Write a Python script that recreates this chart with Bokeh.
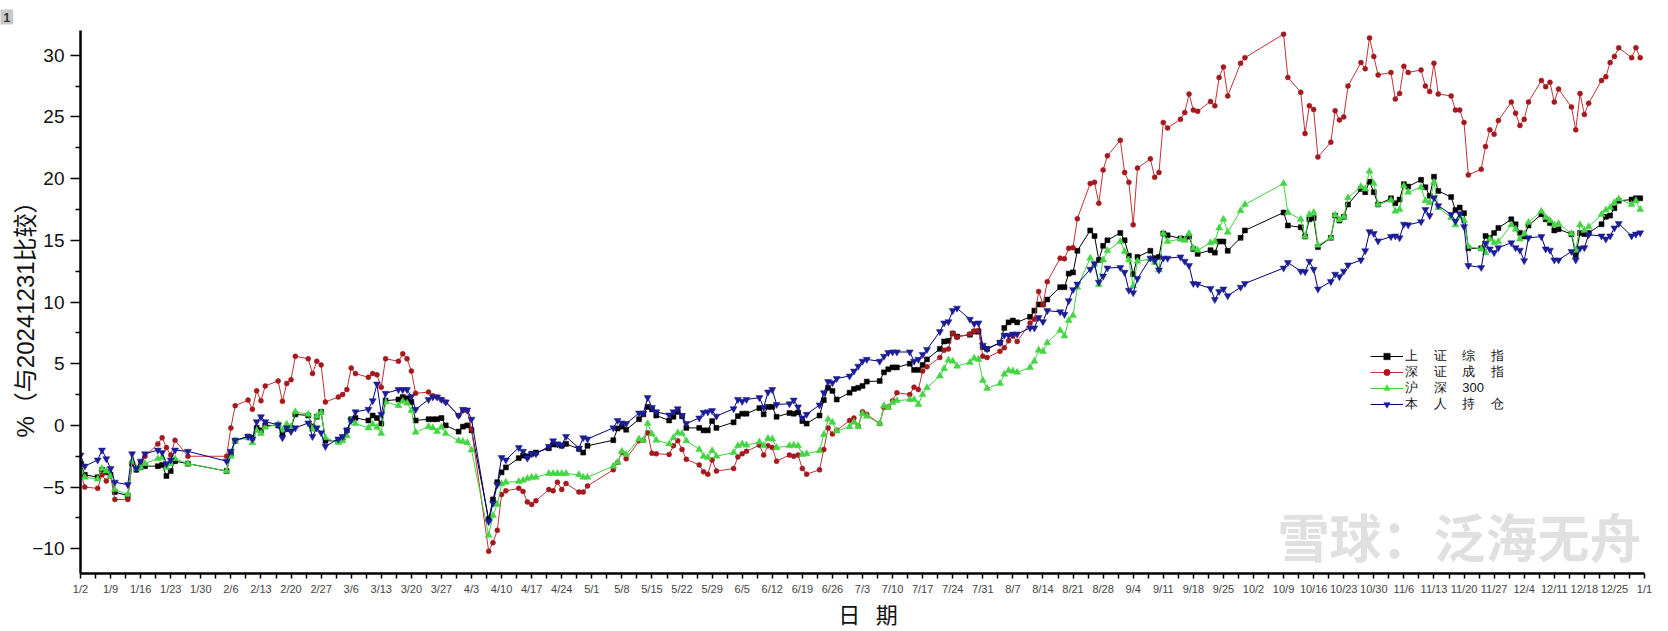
import pandas as pd
from bokeh.plotting import figure
from bokeh.models import FixedTicker, Label, Legend, LegendItem, ColumnDataSource, Range1d, Title
from bokeh.embed import file_html
from bokeh.resources import INLINE

# ---------------- data ----------------
# trading days of 2025 (month -> days)
trading_days = {
    1: [2, 3, 6, 7, 8, 9, 10, 13, 14, 15, 16, 17, 20, 21, 22, 23, 24, 27],
    2: [5, 6, 7, 10, 11, 12, 13, 14, 17, 18, 19, 20, 21, 24, 25, 26, 27, 28],
    3: [3, 4, 5, 6, 7, 10, 11, 12, 13, 14, 17, 18, 19, 20, 21, 24, 25, 26, 27, 28, 31],
    4: [1, 2, 3, 7, 8, 9, 10, 11, 14, 15, 16, 17, 18, 21, 22, 23, 24, 25, 28, 29, 30],
    5: [6, 7, 8, 9, 12, 13, 14, 15, 16, 19, 20, 21, 22, 23, 26, 27, 28, 29, 30],
    6: [3, 4, 5, 6, 9, 10, 11, 12, 13, 16, 17, 18, 19, 20, 23, 24, 25, 26, 27, 30],
    7: [1, 2, 3, 4, 7, 8, 9, 10, 11, 14, 15, 16, 17, 18, 21, 22, 23, 24, 25, 28, 29, 30, 31],
    8: [1, 4, 5, 6, 7, 8, 11, 12, 13, 14, 15, 18, 19, 20, 21, 22, 25, 26, 27, 28, 29],
    9: [1, 2, 3, 4, 5, 8, 9, 10, 11, 12, 15, 16, 17, 18, 19, 22, 23, 24, 25, 26, 29, 30],
    10: [9, 10, 13, 14, 15, 16, 17, 20, 21, 22, 23, 24, 27, 28, 29, 30, 31],
    11: [3, 4, 5, 6, 7, 10, 11, 12, 13, 14, 17, 18, 19, 20, 21, 24, 25, 26, 27, 28],
    12: [1, 2, 3, 4, 5, 8, 9, 10, 11, 12, 15, 16, 17, 18, 19, 22, 23, 24, 25, 26, 29, 30, 31],
}

# 上证综指 (% vs 2024-12-31)
shanghai = [
    -3.1, -4.0, -4.2, -3.6, -3.8, -4.0, -5.4, -5.7, -3.1, -3.6, -3.4, -3.3, -3.3, -3.2, -4.1, -3.7, -2.9, -3.1,
    -3.7, -2.3, -1.25, -0.9, -1.0, -0.2, -0.4, 0.0, 0.0, -0.7, -0.3, -0.2, 0.9, 0.8, -0.1, 0.7, 1.1, -1.25,
    -1.25, -1.0, -0.4, 0.5, 0.6, 0.4, 0.8, 0.6, 0.15, 2.0, 2.1, 2.3, 2.2, 1.9, 0.4, 0.5, 0.5, 0.5, 0.6, 0.0, -0.5,
    -0.1, 0.0, -0.4, -7.6, -6.0, -4.6, -3.8, -3.4, -2.65, -2.45, -2.5, -2.3, -2.2, -1.85, -1.55, -1.55, -1.65, -1.5, -1.9, -2.2, -1.65,
    -1.2, -0.25, -0.1, -0.35, 0.5, 0.9, 1.5, 1.3, 0.8, 0.4, 0.7, 1.1, 0.75, -0.2, -0.2, -0.4, -0.4, 0.35, -0.2,
    0.25, 0.75, 0.95, 0.95, 1.4, 0.9, 1.5, 1.5, 0.7, 1.0, 0.95, 1.05, 0.35, 0.15, 0.8, 2.05, 3.05, 2.8, 2.1, 2.65,
    2.95, 3.05, 3.2, 3.55, 3.6, 4.3, 4.55, 4.7, 4.7, 5.0, 4.5, 4.5, 4.9, 5.35, 6.2, 6.8, 6.85, 7.45, 7.2, 7.35, 7.6, 7.6, 6.35,
    6.2, 6.7, 7.9, 8.35, 8.5, 8.35, 8.8, 9.3, 9.8, 9.8, 10.2, 11.2, 11.2, 12.3, 12.4, 14.15, 15.8, 15.35, 13.4, 14.55, 15.0,
    15.6, 15.0, 13.75, 12.25, 13.65, 14.15, 13.55, 13.65, 15.55, 15.4, 15.15, 15.1, 15.3, 14.3, 13.9, 14.2, 14.0, 14.9, 14.9, 14.15, 15.2, 15.8,
    17.25, 16.2, 16.05, 15.3, 16.7, 16.8, 14.45, 15.2, 17.0, 16.6, 16.9, 17.9, 19.15, 18.9, 19.75, 18.9, 17.9,
    18.4, 18.0, 18.3, 19.55, 19.35, 19.9, 19.3, 18.6, 20.15, 19.0, 18.5, 17.45, 17.65, 17.2, 14.35, 14.35, 15.35, 15.2, 15.6, 16.0,
    16.7, 16.3, 15.6, 15.3, 16.2, 17.1, 16.7, 16.4, 15.8, 15.9, 15.5, 13.8, 15.6, 15.5, 15.6, 16.3, 16.9, 17.0, 17.6, 18.2, 18.3, 18.4, 18.4,
]

# 深证成指
shenzhen = [
    -3.8, -5.0, -5.1, -4.0, -4.5, -4.1, -6.0, -6.0, -3.0, -3.5, -3.0, -2.5, -1.5, -1.0, -1.8, -2.4, -1.2, -2.5,
    -2.5, -0.2, 1.6, 2.05, 1.3, 2.8, 2.0, 3.2, 3.6, 1.95, 3.4, 3.7, 5.6, 5.4, 4.2, 5.2, 4.9, 1.9,
    2.3, 2.5, 2.9, 4.65, 4.2, 3.9, 4.2, 4.1, 3.1, 5.4, 5.2, 5.8, 5.4, 4.4, 2.6, 2.7, 2.4, 2.3, 2.1, 1.9, 0.8,
    1.2, 1.2, -0.3, -10.2, -9.5, -8.5, -5.6, -5.3, -5.1, -5.35, -6.2, -6.4, -6.1, -5.2, -5.3, -4.6, -5.2, -4.7, -5.4, -5.4, -4.9,
    -3.6, -3.0, -2.2, -2.7, -1.25, -1.2, -0.6, -2.25, -2.3, -2.35, -1.65, -1.25, -1.95, -2.75, -3.2, -3.75, -3.95, -2.8, -3.7,
    -3.5, -2.55, -2.3, -2.1, -1.6, -2.4, -1.65, -1.8, -2.9, -2.4, -2.5, -2.4, -3.5, -3.95, -3.6, -1.95, -0.2, -0.7, -0.4, 0.4,
    0.6, -0.05, 1.1, 0.9, 0.15, 1.45, 1.5, 2.0, 2.65, 2.5, 3.1, 2.9, 4.4, 4.75, 5.5, 6.1, 6.2, 7.45, 7.15, 7.4, 7.65, 7.7, 5.6,
    5.5, 6.0, 6.3, 6.85, 7.25, 6.8, 8.3, 8.6, 10.85, 9.8, 11.65, 13.55, 13.5, 14.35, 14.4, 16.75, 19.6, 19.7, 18.0, 20.7, 21.85,
    23.1, 20.5, 19.7, 16.25, 20.85, 21.6, 20.1, 20.5, 24.55, 24.1, 24.8, 25.35, 26.85, 25.55, 25.45, 26.25, 25.9, 28.2, 29.05, 26.7, 29.35, 29.8,
    31.7, 28.2, 27.0, 23.65, 25.9, 25.6, 21.75, 22.95, 25.5, 24.75, 25.0, 27.5, 29.4, 28.9, 31.4, 29.9, 28.4,
    28.6, 26.45, 26.9, 29.1, 28.6, 28.8, 27.5, 27.05, 29.35, 26.85, 26.7, 25.55, 25.55, 24.55, 20.3, 20.75, 22.6, 23.95, 23.6, 24.7,
    26.2, 25.3, 24.3, 24.8, 26.2, 27.95, 27.45, 27.8, 26.2, 27.25, 25.8, 23.95, 26.9, 25.2, 26.1, 27.95, 28.25, 29.4, 29.9, 30.6, 29.8, 30.6, 29.8,
]

# 沪深300
hs300 = [
    -3.7, -4.2, -4.35, -3.5, -3.7, -4.1, -5.2, -5.6, -2.9, -3.5, -3.4, -3.1, -2.7, -2.6, -3.4, -3.1, -2.7, -3.1,
    -3.7, -2.5, -1.25, -1.0, -1.4, -0.4, -0.65, -0.15, 0.1, -0.4, 0.1, -0.1, 1.1, 0.9, -0.3, 0.75, 1.05, -1.0,
    -1.4, -1.25, -0.85, 0.4, 0.15, -0.2, 0.1, -0.15, -0.65, 1.9, 1.6, 1.95, 1.8, 1.2, -0.55, -0.1, -0.2, -0.5, -0.15, -0.65, -1.25,
    -1.3, -1.4, -2.0, -8.9, -7.3, -6.4, -4.75, -4.6, -4.55, -4.45, -4.3, -4.2, -4.2, -3.9, -3.9, -3.9, -3.9, -3.9, -4.0, -4.2, -4.2,
    -3.3, -3.0, -2.1, -2.35, -1.1, -1.2, 0.15, -0.7, -1.2, -1.5, -1.0, -0.6, -0.65, -1.25, -1.95, -2.5, -2.6, -2.05, -2.5,
    -2.2, -1.65, -1.5, -1.6, -1.35, -1.65, -1.05, -1.1, -1.8, -1.65, -1.6, -1.65, -2.35, -2.3, -2.05, -0.75, 0.5, 0.25, -0.45, -0.1,
    0.25, -0.1, 0.95, 0.75, 0.15, 1.6, 1.45, 1.85, 2.0, 2.1, 2.1, 1.7, 2.5, 3.05, 4.0, 4.6, 5.3, 5.2, 4.8, 5.1, 5.45, 5.35, 3.65,
    3.0, 3.4, 4.15, 4.45, 4.4, 4.3, 4.7, 5.2, 6.1, 6.0, 6.7, 7.7, 7.25, 8.5, 8.9, 11.2, 13.55, 13.05, 11.4, 13.4, 14.15,
    14.9, 14.1, 13.4, 11.3, 13.3, 13.5, 13.2, 12.6, 15.55, 14.9, 15.1, 15.0, 15.55, 14.35, 14.2, 14.8, 14.9, 16.0, 16.7, 15.65, 17.4, 17.9,
    19.6, 17.25, 16.7, 15.3, 17.1, 17.25, 14.6, 15.2, 17.05, 16.65, 16.9, 18.45, 19.35, 19.15, 20.6, 19.6, 17.9,
    18.25, 17.35, 17.5, 19.4, 18.9, 19.3, 18.2, 18.05, 19.7, 17.65, 16.85, 16.25, 16.9, 16.6, 14.5, 14.3, 14.0, 15.1, 14.8, 14.9,
    16.25, 15.9, 15.1, 15.5, 16.45, 17.35, 16.85, 16.6, 16.25, 16.35, 15.55, 14.2, 16.25, 15.8, 16.1, 17.1, 17.45, 17.65, 18.05, 18.35, 17.9, 18.2, 17.5,
]

# 本人持仓
holding = [
    -2.4, -3.3, -2.8, -2.0, -2.7, -3.5, -4.6, -4.8, -2.3, -3.5, -2.9, -2.3, -2.0, -2.2, -3.1, -2.8, -2.0, -2.1,
    -2.9, -2.1, -1.2, -0.9, -1.1, 0.3, 0.7, 0.3, 0.05, -1.0, -0.2, -0.5, -0.2, 0.2, -0.9, -0.2, -0.6, -1.7,
    -1.1, -0.9, -0.4, 0.4, 1.1, 1.3, 2.0, 3.35, 0.9, 2.6, 2.9, 2.9, 2.9, 2.35, 1.3, 2.1, 2.3, 2.3, 2.1, 1.9, 0.8,
    1.3, 1.25, 0.5, -7.8, -6.3, -4.8, -2.6, -2.8, -1.8, -2.1, -2.65, -2.3, -2.3, -1.7, -1.25, -1.5, -1.6, -0.9, -1.85, -1.0, -1.1,
    -0.2, 0.4, 0.2, 0.15, 1.0, 1.0, 2.25, 1.45, 1.1, 0.85, 1.1, 1.35, 0.8, 0.15, 0.6, 1.05, 1.1, 1.2, 0.75,
    1.35, 2.1, 1.95, 2.1, 2.25, 1.45, 2.7, 2.9, 1.7, 1.75, 2.05, 1.5, 0.6, 0.9, 1.65, 2.65, 3.55, 3.45, 3.8, 4.0,
    4.4, 4.8, 5.2, 5.35, 5.2, 5.6, 5.9, 5.95, 5.95, 5.95, 5.2, 5.35, 5.75, 6.15, 7.6, 8.3, 8.4, 9.3, 9.5, 8.6, 8.25, 8.3, 6.5,
    6.2, 6.7, 7.3, 7.3, 7.4, 7.4, 7.9, 7.9, 8.75, 8.4, 9.3, 9.2, 9.0, 10.1, 11.0, 11.45, 12.65, 13.1, 11.6, 12.1, 12.75,
    12.8, 12.4, 10.95, 10.75, 11.9, 13.55, 13.35, 12.6, 13.55, 13.55, 13.65, 13.3, 12.95, 11.5, 11.45, 11.1, 10.2, 10.85, 11.05, 10.5, 11.2, 11.5,
    12.75, 13.2, 12.5, 12.45, 13.3, 12.65, 11.05, 11.65, 12.25, 12.05, 12.5, 13.0, 13.4, 14.15, 15.7, 15.55, 14.95,
    15.3, 15.35, 15.2, 16.3, 16.25, 16.5, 17.5, 17.0, 18.45, 17.8, 17.1, 16.55, 17.15, 16.1, 12.95, 12.8, 14.75, 14.3, 14.0, 14.4,
    14.8, 14.4, 14.2, 13.35, 15.2, 15.3, 14.3, 14.2, 13.4, 13.4, 14.1, 13.4, 14.35, 14.4, 15.45, 15.35, 15.1, 15.35, 16.0, 16.35, 15.35, 15.5, 15.6,
]

series_names = ["上\u3000\u2009证\u3000\u2009综\u3000\u2009指",
                "深\u3000\u2009证\u3000\u2009成\u3000\u2009指",
                "沪\u3000\u2009深\u3000\u2009300",
                "本\u3000\u2009人\u3000\u2009持\u3000\u2009仓"]
y_title = "%（与20241231比较）"
x_title = "\u2002日\u2002\u2009期"
y_ticks = [-10, -5, 0, 5, 10, 15, 20, 25, 30]

# ---------------- build ----------------
start = pd.Timestamp("2025-01-02")
dates = [pd.Timestamp(2025, m, d) for m in sorted(trading_days) for d in trading_days[m]]
xday = [(dt - start).days for dt in dates]
for s in (shanghai, shenzhen, hs300, holding):
    assert len(s) == len(dates), (len(s), len(dates))

tick_dates = pd.date_range(start, pd.Timestamp("2026-01-01"), freq="7D")
tick_pos = [(t - start).days for t in tick_dates]
tick_labels = {pos: f"{t.month}/{t.day}" for pos, t in zip(tick_pos, tick_dates)}
minor_pos = [p + 3.5 for p in tick_pos[:-1]]

src = ColumnDataSource(dict(x=xday, sh=shanghai, sz=shenzhen, hs=hs300, me=holding))

p = figure(width=1668, height=631, output_backend="svg", toolbar_location=None,
           x_range=Range1d(0, 364), y_range=Range1d(-12, 32),
           min_border_left=80, min_border_right=24, min_border_top=30, min_border_bottom=58)
p.outline_line_color = None
p.xgrid.visible = False
p.ygrid.visible = False
p.background_fill_color = "white"
p.border_fill_color = "white"

styles = [
    ("sh", "#000000", "square", 5, "#000000"),
    ("sz", "#c43236", "circle", 5, "#a3191e"),
    ("hs", "#3fd23f", "triangle", 7, "#44d544"),
    ("me", "#00007a", "inverted_triangle", 7, "#1c1c96"),
]
# one single-row legend per series so that rows sit 16 px apart
legend_rows_y = [208, 192, 176, 160]
for (col, lc, mk, sz, mc), name, ly in zip(styles, series_names, legend_rows_y):
    lr = p.line("x", col, source=src, line_color=lc, line_width=1)
    sr = p.scatter("x", col, source=src, marker=mk, size=sz, fill_color=mc, line_color=mc, line_width=0.5)
    lg = Legend(items=[LegendItem(label=name, renderers=[lr, sr])], location=(1290, ly),
                border_line_color=None, background_fill_alpha=0, padding=0, margin=0, spacing=0,
                label_height=16, glyph_height=16, glyph_width=33, label_standoff=2,
                label_text_font="Liberation Sans", label_text_font_size="13px",
                label_text_color="#111111")
    p.add_layout(lg, "center")

# axes
xa = p.xaxis[0]
xa.ticker = FixedTicker(ticks=tick_pos, minor_ticks=minor_pos)
xa.major_label_overrides = tick_labels
xa.axis_line_width = 2.5
xa.major_tick_in = 0
xa.major_tick_out = 5
xa.minor_tick_in = 0
xa.minor_tick_out = 5
xa.major_tick_line_width = 1.5
xa.minor_tick_line_width = 1.5
xa.major_label_standoff = 4
xa.major_label_text_font = "Liberation Sans"
xa.major_label_text_font_size = "11px"
xa.major_label_text_color = "#444444"
xa.axis_label = x_title
xa.axis_label_standoff = 5
xa.axis_label_text_font = "Liberation Sans, Noto Sans CJK SC"
xa.axis_label_text_font_size = "22px"
xa.axis_label_text_font_style = "normal"
xa.axis_label_text_color = "#111111"

ya = p.yaxis[0]
ya.ticker = FixedTicker(ticks=y_ticks, minor_ticks=[t + 2.5 for t in y_ticks[:-1]])
ya.axis_line_width = 2.5
ya.major_tick_in = 0
ya.major_tick_out = 10
ya.minor_tick_in = 0
ya.minor_tick_out = 5
ya.major_tick_line_width = 1.5
ya.minor_tick_line_width = 1.5
ya.major_label_standoff = 6
ya.major_label_text_font = "Liberation Sans"
ya.major_label_text_font_size = "19px"
ya.major_label_text_color = "#111111"

# y-axis title, placed in the left panel next to the axis
p.add_layout(Title(text=y_title, align="left", offset=136, standoff=-18,
                   text_font="Liberation Sans, Noto Sans CJK SC", text_font_size="24px",
                   text_font_style="normal", text_color="#111111"), "left")

# corner tag
p.add_layout(Title(text="1", align="left", offset=-80, standoff=8, vertical_align="top",
                   text_font="Liberation Sans", text_font_size="12px", text_font_style="bold",
                   text_color="#333333", background_fill_color="#c8c8c8", padding=3), "above")

# watermark
p.add_layout(Label(x=1197, y=1, x_units="screen", y_units="screen", text="雪球：泛海无舟",
                   text_align="left", text_baseline="bottom", text_font="Noto Sans CJK SC",
                   text_font_size="52px", text_font_style="bold", text_color="#cccccc", text_alpha=0.6))

open("out.html", "w").write(file_html(p, INLINE))
